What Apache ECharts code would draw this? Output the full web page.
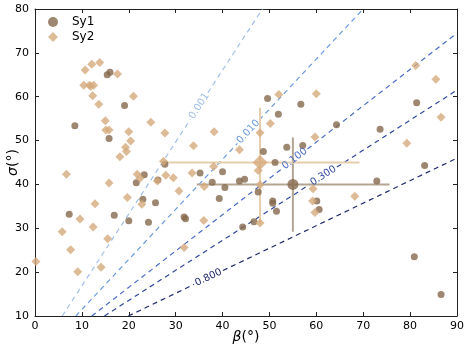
<!DOCTYPE html>
<html>
<head>
<meta charset="utf-8">
<script src="https://cdn.jsdelivr.net/npm/echarts@6/dist/echarts.min.js"></script>
<style>
  html, body { margin: 0; padding: 0; background: #fff; }
  #chart { width: 469px; height: 352px; }
</style>
</head>
<body>
<div id="chart"></div>
<script>
// Sy1 points (beta, sigma)
const sy1Beta = [8.5, 15.4, 16.0, 19.1, 15.8, 7.3, 16.9, 20.0, 21.6, 23.3, 23.0, 24.2, 25.7, 26.2, 27.7,
  31.8, 32.1, 35.2, 37.8, 40.0, 39.3, 40.5, 43.6, 44.7, 47.6, 50.7, 50.7, 51.5, 46.7, 44.3,
  60.1, 60.6, 72.9, 80.9, 86.6, 49.6, 56.7, 51.9, 64.3, 48.7, 53.7, 57.1, 51.2, 73.6, 81.4, 83.1]
const sy1Sigma = [53.4, 65.0, 65.6, 58.0, 50.5, 33.2, 33.0, 31.7, 40.4, 42.2, 36.6, 31.4, 35.8, 41.0, 44.6,
  32.6, 32.2, 42.6, 40.5, 42.9, 36.8, 39.3, 40.8, 41.2, 38.3, 36.2, 35.7, 33.9, 31.5, 30.3,
  36.2, 34.3, 40.8, 23.5, 14.9, 59.6, 58.3, 56.0, 53.6, 47.5, 48.5, 48.9, 45.0, 52.6, 58.6, 44.3]

// Sy2 points (beta, sigma)
const sy2Beta = [10.7, 12.1, 13.8, 17.6, 10.4, 11.6, 12.5, 11.9, 12.3, 13.6, 21.0, 15.0, 15.1, 15.8, 24.7,
  20.4, 19.3, 19.5, 18.1, 20.0, 27.7, 33.8, 38.2, 38.1, 43.6, 27.4, 6.7, 21.8, 22.4, 22.8,
  19.7, 15.8, 12.8, 12.4, 9.6, 5.8, 7.6, 9.1, 0.2, 15.5, 14.1, 26.1, 27.9, 29.5, 30.7,
  33.5, 36.0, 36.1, 31.8, 52.0, 60.0, 50.2, 48.0, 59.7, 81.2, 85.5, 86.6, 79.3, 47.6, 48.0,
  59.3, 59.2, 59.7, 68.2, 48.0]
const sy2Sigma = [66.1, 67.4, 67.8, 65.2, 62.6, 62.6, 62.6, 62.4, 60.2, 58.3, 60.1, 54.5, 52.4, 52.4, 54.2,
  49.9, 48.5, 47.5, 46.3, 52.0, 51.7, 48.8, 52.0, 44.1, 47.9, 45.3, 42.3, 42.3, 41.4, 35.5,
  37.0, 40.3, 35.6, 30.3, 32.1, 29.2, 25.1, 20.1, 22.4, 27.6, 21.1, 40.8, 42.1, 41.5, 38.5,
  42.6, 31.8, 39.5, 25.6, 60.5, 60.7, 53.9, 51.8, 50.8, 67.1, 64.0, 55.3, 49.4, 43.2, 39.9,
  39.0, 36.2, 33.6, 37.3, 31.2]

// group means with error ranges
const meanBeta = [55, 48]
const meanSigma = [40, 45]
const betaLo = [34.5, 27.0]
const betaHi = [75.6, 69.2]
const sigmaLo = [29.2, 31.1]
const sigmaHi = [50.7, 57.5]

// dashed probability lines
const contourLevels = ['0.001', '0.010', '0.100', '0.300', '0.800']
const contourStart = [[5.8, 10], [8.7, 10], [12.1, 10], [14.8, 10], [19.9, 10]]
const contourEnd = [[48.5, 80], [70, 80], [90, 74.5], [90, 61.5], [90, 46]]
const contourLabelBeta = [35, 45.5, 55.4, 61.5, 37]
const contourColors = ['#a3c0ea', '#6c9be2', '#4b6bc6', '#30489c', '#202b6e']

const xTicks = { min: 0, max: 90, interval: 10 }
const yTicks = { min: 10, max: 80, interval: 10 }

const sy1Color = '#86694c'
const sy2Color = '#d5aa7c'
const errColors = ['#b3a592', '#e6cdab']

const zip = (a, b) => a.map((v, i) => [v, b[i]])
const font = 'DejaVu Sans'

const chart = echarts.init(document.getElementById('chart'))

const axisCommon = {
  type: 'value',
  splitLine: { show: false },
  axisLine: { show: true, onZero: false, lineStyle: { color: '#222', width: 1 } },
  axisTick: { show: true, inside: true, length: 4, lineStyle: { color: '#222' } }
}

const baseSeries = [
  {
    type: 'custom',
    name: 'err',
    z: 3,
    silent: true,
    encode: { x: [0, 2, 3], y: [1, 4, 5] },
    data: meanBeta.map((b, i) => [b, meanSigma[i], betaLo[i], betaHi[i], sigmaLo[i], sigmaHi[i]]),
    renderItem: (params, api) => {
      const l = api.coord([api.value(2), api.value(1)])
      const r = api.coord([api.value(3), api.value(1)])
      const b = api.coord([api.value(0), api.value(4)])
      const t = api.coord([api.value(0), api.value(5)])
      const style = { stroke: errColors[params.dataIndex], lineWidth: 2 }
      return {
        type: 'group',
        children: [
          { type: 'line', shape: { x1: l[0], y1: l[1], x2: r[0], y2: r[1] }, style },
          { type: 'line', shape: { x1: b[0], y1: b[1], x2: t[0], y2: t[1] }, style }
        ]
      }
    }
  },
  {
    name: 'Sy1',
    type: 'scatter',
    z: 4,
    symbol: 'circle',
    symbolSize: 7,
    itemStyle: { color: sy1Color },
    data: zip(sy1Beta, sy1Sigma)
  },
  {
    name: 'Sy2',
    type: 'scatter',
    z: 5,
    symbol: 'diamond',
    symbolSize: 9,
    itemStyle: { color: sy2Color },
    data: zip(sy2Beta, sy2Sigma)
  },
  {
    name: 'Sy1 mean',
    type: 'scatter',
    z: 6,
    symbol: 'circle',
    symbolSize: 11,
    itemStyle: { color: sy1Color },
    data: [[meanBeta[0], meanSigma[0]]]
  },
  {
    name: 'Sy2 mean',
    type: 'scatter',
    z: 6,
    symbol: 'diamond',
    symbolSize: 15,
    itemStyle: { color: sy2Color },
    data: [[meanBeta[1], meanSigma[1]]]
  }
]

chart.setOption({
  animation: false,
  textStyle: { fontFamily: font },
  grid: { left: 35, right: 12, top: 9, bottom: 36, containLabel: false, outerBoundsMode: 'none' },
  legend: {
    orient: 'vertical',
    left: 43,
    top: 10,
    itemWidth: 10,
    itemHeight: 10,
    itemGap: 1,
    textStyle: { fontSize: 12, color: '#000', lineHeight: 14, padding: [0, 0, 0, 9] },
    data: [{ name: 'Sy1', icon: 'circle' }, { name: 'Sy2', icon: 'diamond' }]
  },
  xAxis: [
    {
      ...axisCommon,
      ...xTicks,
      position: 'bottom',
      name: '{i|β}(°)',
      nameLocation: 'middle',
      nameGap: 14,
      nameMoveOverlap: false,
      nameTextStyle: {
        fontSize: 14, color: '#000', verticalAlign: 'top',
        rich: { i: { fontSize: 14, fontStyle: 'italic', fontFamily: font } }
      },
      axisLabel: { fontSize: 11, color: '#000', margin: 5 }
    },
    {
      ...axisCommon,
      ...xTicks,
      position: 'top',
      axisLabel: { show: false }
    }
  ],
  yAxis: [
    {
      ...axisCommon,
      ...yTicks,
      position: 'left',
      name: '{i|σ}(°)',
      nameLocation: 'middle',
      nameGap: 15,
      nameMoveOverlap: false,
      nameTextStyle: {
        fontSize: 14, color: '#000',
        rich: { i: { fontSize: 14, fontStyle: 'italic', fontFamily: font } }
      },
      axisLabel: { fontSize: 11, color: '#000', margin: 6 }
    },
    {
      ...axisCommon,
      ...yTicks,
      position: 'right',
      axisLabel: { show: false }
    }
  ],
  series: baseSeries
})

// dashed lines, broken where the label sits
const contourSeries = []
const labels = []
const halfGap = 16
contourLevels.forEach((lvl, i) => {
  const s = contourStart[i], e = contourEnd[i]
  const frac = (contourLabelBeta[i] - s[0]) / (e[0] - s[0])
  const mid = [contourLabelBeta[i], s[1] + frac * (e[1] - s[1])]
  const p0 = chart.convertToPixel({ gridIndex: 0 }, s)
  const p1 = chart.convertToPixel({ gridIndex: 0 }, e)
  const pc = chart.convertToPixel({ gridIndex: 0 }, mid)
  const dx = p1[0] - p0[0], dy = p1[1] - p0[1]
  const len = Math.sqrt(dx * dx + dy * dy)
  const ux = dx / len, uy = dy / len
  const ga = chart.convertFromPixel({ gridIndex: 0 }, [pc[0] - ux * halfGap, pc[1] - uy * halfGap])
  const gb = chart.convertFromPixel({ gridIndex: 0 }, [pc[0] + ux * halfGap, pc[1] + uy * halfGap])
  const lineStyle = { color: contourColors[i], width: 1.2, type: [5, 4] }
  contourSeries.push(
    { type: 'line', silent: true, z: 1, showSymbol: false, symbol: 'none', lineStyle, data: [s, ga] },
    { type: 'line', silent: true, z: 1, showSymbol: false, symbol: 'none', lineStyle, data: [gb, e] }
  )
  labels.push({
    type: 'text',
    x: pc[0],
    y: pc[1],
    rotation: Math.atan2(-dy, dx),
    z: 10,
    style: {
      text: lvl,
      fill: contourColors[i],
      fontSize: 10,
      fontFamily: font,
      align: 'center',
      verticalAlign: 'middle',
      textAlign: 'center',
      textVerticalAlign: 'middle'
    }
  })
})

chart.setOption({
  series: baseSeries.concat(contourSeries),
  graphic: labels
})
</script>
</body>
</html>
